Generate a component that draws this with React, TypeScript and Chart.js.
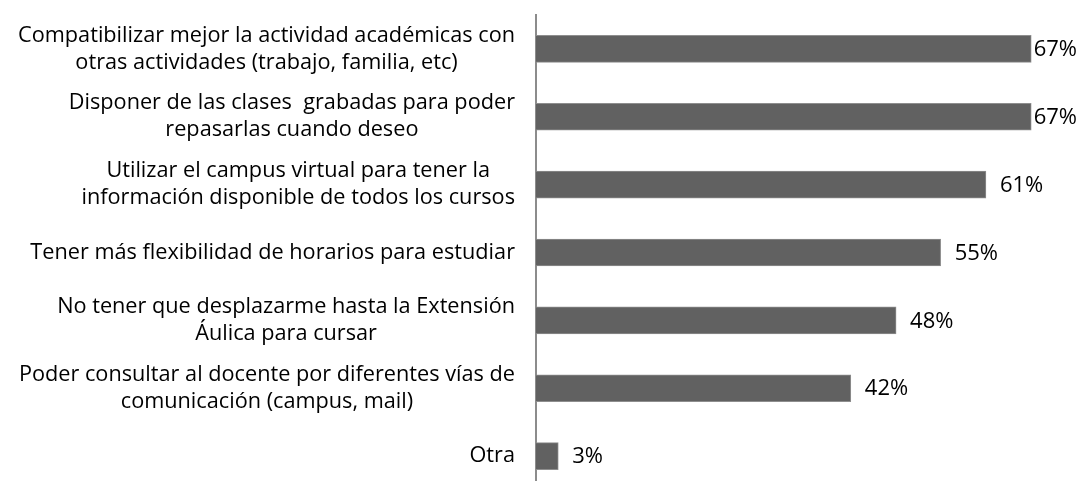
import React, { useEffect, useRef } from "react";
import { Chart, registerables } from "chart.js";

Chart.register(...registerables);

const categories: string[][] = [
  ["Compatibilizar mejor la actividad académicas con", "otras actividades (trabajo, familia, etc)"],
  ["Disponer de las clases  grabadas para poder", "repasarlas cuando deseo"],
  ["Utilizar el campus virtual para tener la", "información disponible de todos los cursos"],
  ["Tener más flexibilidad de horarios para estudiar"],
  ["No tener que desplazarme hasta la Extensión", "Áulica para cursar"],
  ["Poder consultar al docente por diferentes vías de", "comunicación (campus, mail)"],
  ["Otra"],
];
const values: number[] = [66.7, 66.7, 60.6, 54.5, 48.5, 42.4, 3.0];
const valueLabels: string[] = ["67%", "67%", "61%", "55%", "48%", "42%", "3%"];

const FONT_FAMILY = "'Open Sans', 'Noto Sans', sans-serif";
const CAT_FONT = `21.7px ${FONT_FAMILY}`;
const VAL_FONT = `22px ${FONT_FAMILY}`;

const categoryLabelPlugin = {
  id: "categoryLabels",
  afterDraw(chart: any) {
    const ctx = chart.ctx;
    const yScale = chart.scales.y;
    const rightEdge = yScale.right - 21;
    const lineHeight = 27;
    ctx.save();
    ctx.font = CAT_FONT;
    ctx.fillStyle = "#000000";
    ctx.textBaseline = "middle";
    ctx.textAlign = "center";
    categories.forEach((lines, i) => {
      const yc = yScale.getPixelForValue(i);
      const blockW = Math.max(...lines.map((l) => ctx.measureText(l).width));
      const cx = rightEdge - blockW / 2;
      const startY = yc - ((lines.length - 1) * lineHeight) / 2;
      lines.forEach((l, j) => ctx.fillText(l, cx, startY + j * lineHeight));
    });
    ctx.restore();
  },
};

const valueLabelPlugin = {
  id: "valueLabels",
  afterDatasetsDraw(chart: any) {
    const ctx = chart.ctx;
    const meta = chart.getDatasetMeta(0);
    ctx.save();
    ctx.font = VAL_FONT;
    ctx.fillStyle = "#000000";
    ctx.textBaseline = "middle";
    ctx.textAlign = "left";
    meta.data.forEach((bar: any, i: number) => {
      const text = valueLabels[i];
      const w = ctx.measureText(text).width;
      let x = bar.x + 14;
      if (x + w > chart.width - 1) x = Math.max(bar.x + 1, chart.width - 1 - w);
      ctx.fillText(text, x, bar.y + 1);
    });
    ctx.restore();
  },
};

export default function App() {
  const canvasRef = useRef<HTMLCanvasElement | null>(null);

  useEffect(() => {
    if (!canvasRef.current) return;
    const chart = new Chart(canvasRef.current, {
      type: "bar",
      data: {
        labels: categories.map((c) => c.join(" ")),
        datasets: [
          {
            data: values,
            backgroundColor: "#616161",
            borderColor: "#8e8e8e",
            borderWidth: 1,
            barThickness: 27,
          },
        ],
      },
      options: {
        indexAxis: "y",
        animation: false,
        responsive: true,
        maintainAspectRatio: false,
        layout: { padding: { top: 15, right: 0, bottom: 0, left: 0 } },
        plugins: {
          legend: { display: false },
          tooltip: { enabled: false },
        },
        scales: {
          x: {
            display: false,
            min: 0,
            max: 73,
          },
          y: {
            display: true,
            grid: { display: false, drawTicks: false },
            ticks: { display: false },
            border: { display: true, color: "#8c8c8c", width: 2 },
            afterFit(scale: any) {
              scale.width = 536;
            },
          },
        },
      },
      plugins: [categoryLabelPlugin, valueLabelPlugin],
    });
    return () => chart.destroy();
  }, []);

  return (
    <div
      style={{
        position: "absolute",
        left: 0,
        top: 0,
        width: 1078,
        height: 490,
        background: "#ffffff",
      }}
    >
      <canvas ref={canvasRef} />
    </div>
  );
}
